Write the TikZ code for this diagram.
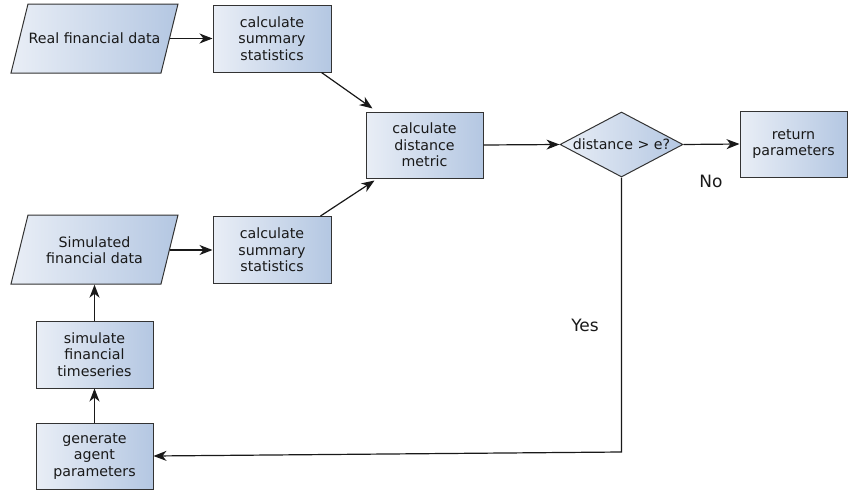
\documentclass[tikz,border=0pt]{standalone}
\usepackage{fontspec}
\setmainfont{DejaVu Sans}
\usetikzlibrary{shapes.geometric,arrows.meta,calc}
\definecolor{lightfill}{HTML}{E9EEF6}
\definecolor{darkfill}{HTML}{B4C7E2}
\definecolor{edge}{HTML}{333333}
\begin{document}
\begin{tikzpicture}[x=1pt,y=-1pt,
  every node/.style={font=\fontsize{14.2pt}{16.5pt}\selectfont, align=center, text=black!90},
  procbox/.style={draw=edge, line width=1pt, left color=lightfill, right color=darkfill,
    minimum width=117pt, minimum height=67pt, inner sep=0pt},
  datatext/.style={minimum width=150pt, minimum height=69pt, inner sep=0pt},
  para/.style={draw=edge, line width=1pt, left color=lightfill, right color=darkfill},
  decision/.style={draw=edge, line width=1pt, left color=lightfill, right color=darkfill,
    diamond, aspect=1.9, minimum width=123pt, minimum height=65pt, inner sep=0pt},
  conn/.style={draw=black!90, line width=1.2pt, -{Stealth[length=13pt,width=10pt,inset=4pt]}},
  lbl/.style={font=\fontsize{17pt}{20pt}\selectfont}
]
\useasboundingbox (0,0) rectangle (849,490);

% parallelogram shapes
\shade[para] (11,73) -- (161,73) -- (178,4) -- (28,4) -- cycle;
\shade[para] (11,284) -- (161,284) -- (178,215) -- (28,215) -- cycle;

\node[datatext] (real) at (94.5,38.5) {Real financial data};
\node[datatext] (simdata) at (94.5,250) {Simulated\\financial data};

\node[procbox, minimum width=118pt] (sum1) at (272,38.5) {calculate\\summary\\statistics};
\node[procbox, minimum width=118pt] (sum2) at (272,250) {calculate\\summary\\statistics};
\node[procbox, minimum height=66pt] (metric) at (424.5,145) {calculate\\distance\\metric};
\node[decision] (dec) at (621.5,144.5) {distance > e?};
\node[procbox, minimum width=107pt, minimum height=66pt] (ret) at (793.5,144) {return\\parameters};
\node[procbox] (simts) at (94.5,354.5) {simulate\\financial\\timeseries};
\node[procbox, minimum height=66pt] (gen) at (94.5,456) {generate\\agent\\parameters};

\node[lbl] (no) at (711,181) {No};
\node[lbl] (yes) at (585,325) {Yes};

\coordinate (yescorner) at (621.5,452);

\draw[conn] (real.east) -- (sum1.west);
\draw[conn] (simdata.east) -- (sum2.west);
\draw[conn] ($(sum1.south east)+(-10,0)$) -- ($(metric.north west)+(7,-3)$);
\draw[conn] ($(sum2.north east)+(-11,0)$) -- ($(metric.south west)+(9,2)$);
\draw[conn] (metric.east) -- (dec.west);
\draw[conn] (dec.east) -- (ret.west);
\draw[conn] (gen.north) -- (simts.south);
\draw[conn] (simts.north) -- (simdata.south);
\draw[conn] (dec.south) -- (yescorner) -- (gen.east);
\end{tikzpicture}
\end{document}
